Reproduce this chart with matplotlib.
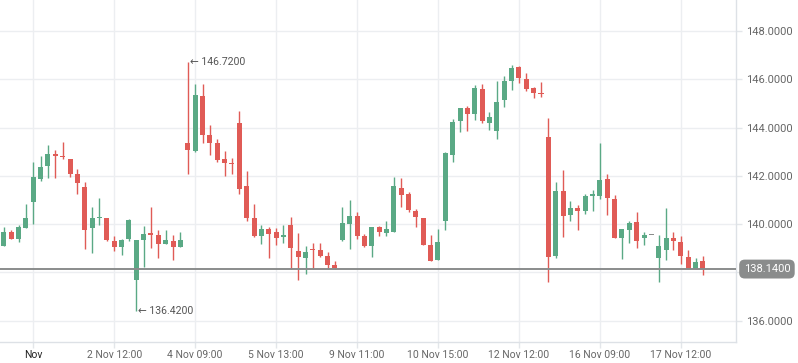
import matplotlib.pyplot as plt

plt.rcParams['font.family'] = ['Roboto', 'DejaVu Sans']

# datos OHLC (una vela por indice)
aperturas = [139.11, 139.68, 139.39, 139.86, 140.93, 141.87, 142.42, 142.91, 142.84, 142.70,
             142.09, 141.54, 139.86, 140.25, 140.26, 139.30, 139.07, 139.37, 137.69, 139.36,
             139.62, 139.54, 139.18, 139.30, 139.04, 143.36, 143.03, 145.30, 143.67, 143.35,
             142.70, 142.52, 144.19, 141.58, 140.26, 139.52, 139.79, 139.68, 139.48, 139.97,
             138.89, 138.61, 138.97, 138.93, 138.68, 138.31, 139.36, 140.01, 140.34, 139.51,
             139.11, 139.88, 139.65, 139.69, 141.50, 141.25, 140.55, 140.26, 139.14, 138.53,
             140.15, 142.88, 144.29, 144.81, 144.58, 145.60, 144.20, 143.87, 145.12, 145.94,
             146.51, 146.01, 145.63, 145.43, 143.61, 138.70, 141.37, 140.39, 140.67, 140.56,
             141.18, 141.18, 141.87, 141.04, 139.44, 139.77, 140.09, 139.44, 139.54, 138.61,
             138.94, 139.43, 139.26, 138.64, 138.14, 138.48]
maximos = [139.88, 139.76, 139.97, 140.84, 142.57, 142.82, 143.28, 143.07, 143.40, 142.70,
           142.29, 141.75, 140.71, 141.08, 140.26, 139.51, 139.40, 140.20, 139.35, 139.92,
           140.70, 139.76, 139.76, 139.54, 139.68, 146.72, 145.81, 145.81, 144.11, 143.51,
           143.02, 142.74, 144.69, 142.22, 140.84, 139.97, 139.88, 139.84, 139.97, 140.30,
           139.65, 139.10, 139.22, 139.22, 138.85, 138.49, 140.71, 141.00, 140.51, 139.59,
           139.88, 139.93, 140.13, 141.95, 141.91, 141.33, 140.63, 140.26, 139.55, 139.80,
           142.99, 144.36, 144.81, 144.89, 145.76, 145.81, 144.65, 145.93, 146.14, 146.59,
           146.55, 146.26, 145.68, 145.89, 144.40, 141.75, 142.24, 140.96, 140.80, 141.25,
           141.42, 143.36, 142.08, 141.21, 139.80, 140.13, 140.50, 139.68, 139.54, 139.55,
           140.67, 139.68, 139.51, 138.93, 138.60, 138.68]
minimos = [139.08, 139.37, 139.26, 139.86, 140.01, 141.79, 141.93, 141.93, 142.71, 141.97,
           141.26, 138.99, 138.82, 139.98, 139.32, 138.90, 138.74, 139.30, 136.42, 138.24,
           139.01, 138.60, 139.18, 138.52, 139.04, 142.06, 143.00, 143.38, 142.88, 142.59,
           142.01, 142.09, 141.26, 140.15, 139.48, 139.19, 138.61, 139.15, 139.23, 138.13,
           137.69, 137.95, 138.13, 138.66, 138.16, 138.13, 139.32, 138.99, 139.40, 139.06,
           138.66, 139.51, 139.51, 139.69, 140.71, 140.52, 139.88, 139.15, 138.49, 138.53,
           139.77, 142.59, 143.82, 143.86, 144.32, 144.20, 143.90, 143.54, 144.83, 145.57,
           145.86, 145.53, 145.24, 145.28, 137.62, 138.61, 139.48, 140.15, 139.77, 140.44,
           140.56, 141.02, 140.38, 139.44, 138.56, 139.23, 139.03, 139.15, 139.54, 137.62,
           138.52, 138.94, 138.37, 138.14, 138.14, 137.90]
cierres = [139.68, 139.39, 139.88, 140.26, 141.95, 142.37, 142.91, 142.84, 142.77, 142.09,
           141.72, 139.77, 140.26, 140.26, 139.36, 139.07, 139.35, 140.17, 139.35, 139.58,
           139.55, 139.17, 139.35, 139.07, 139.35, 143.09, 145.34, 143.67, 143.38, 142.67,
           142.55, 142.48, 141.47, 140.27, 139.52, 139.79, 139.61, 139.44, 139.55, 139.03,
           138.66, 138.85, 138.93, 138.70, 138.32, 138.20, 140.05, 140.34, 139.52, 139.10,
           139.88, 139.68, 139.80, 141.58, 141.22, 140.60, 140.31, 139.15, 138.49, 139.26,
           142.95, 144.23, 144.81, 144.56, 145.64, 144.25, 144.44, 145.06, 145.93, 146.47,
           146.03, 145.61, 145.45, 145.39, 138.66, 141.37, 140.35, 140.67, 140.56, 141.17,
           141.25, 141.83, 141.10, 139.44, 139.80, 140.05, 139.32, 139.55, 139.54, 139.10,
           139.43, 139.32, 138.70, 138.14, 138.43, 138.14]

pos_etiquetas = [4, 15, 26, 37, 48, 59, 70, 81, 92]
etiquetas_x = ["Nov", "2 Nov 12:00", "4 Nov 09:00", "5 Nov 13:00", "9 Nov 11:00",
               "10 Nov 15:00", "12 Nov 12:00", "16 Nov 09:00", "17 Nov 12:00"]
niveles_y = [136, 138, 140, 142, 144, 146, 148]
precio_actual = 138.14
maximo_max = 146.72
minimo_min = 136.42

verde = '#5aa985'
rojo = '#e05b56'
gris = '#8a8c8c'

fig = plt.figure(figsize=(7.98, 3.63), dpi=100)
ax = fig.add_axes([0, 21 / 363, 736 / 798, 342 / 363])

indices = list(range(len(aperturas)))
colores = []
for o, c in zip(aperturas, cierres):
    if c > o:
        colores.append(verde)
    elif c < o:
        colores.append(rojo)
    else:
        colores.append(gris)

# mechas
ax.vlines(indices, minimos, maximos, colors=colores, linewidth=1, zorder=3)
# cuerpos
bases = [min(o, c) for o, c in zip(aperturas, cierres)]
alturas = [max(abs(c - o), 0.05) for o, c in zip(aperturas, cierres)]
ax.bar(indices, alturas, bottom=bases, width=0.68, color=colores, linewidth=0, zorder=4)

# linea del precio actual
ax.axhline(precio_actual, color=gris, linewidth=1.4, zorder=5)
ax.annotate(f"{precio_actual:.4f}", xy=(1.0, precio_actual), xycoords=('axes fraction', 'data'),
            xytext=(5.5, 0), textcoords='offset points', ha='left', va='center',
            color='white', fontsize=8,
            bbox=dict(boxstyle='round,pad=0.4,rounding_size=0.5', fc=gris, ec='none'),
            annotation_clip=False, zorder=6)

# maximo y minimo
i_max = maximos.index(maximo_max)
i_min = minimos.index(minimo_min)
ax.annotate("\u2190 " + f"{maximo_max:.4f}", xy=(i_max, maximo_max), xytext=(1.5, 0),
            textcoords='offset points', ha='left', va='center', color='#555555', fontsize=7.6)
ax.annotate("\u2190 " + f"{minimo_min:.4f}", xy=(i_min, minimo_min), xytext=(1.5, 0),
            textcoords='offset points', ha='left', va='center', color='#555555', fontsize=7.6)

ax.set_xlim(-0.52, 99.5)
ax.set_ylim(135.12, 149.28)

ax.set_xticks(pos_etiquetas)
ax.set_xticklabels(etiquetas_x)
ax.set_yticks(niveles_y)
ax.set_yticklabels([f"{v:.4f}" if v != 138 else "" for v in niveles_y])
ax.yaxis.tick_right()

ax.grid(True, color='#eceef1', linewidth=1, zorder=0)
ax.set_axisbelow(True)

for lado in ['left', 'top']:
    ax.spines[lado].set_visible(False)
for lado in ['right', 'bottom']:
    ax.spines[lado].set_color('#dde1e6')
    ax.spines[lado].set_linewidth(1)

ax.tick_params(axis='y', length=4, width=1, color='#e3e6ea', pad=3, labelsize=8, labelcolor='#666666')
ax.tick_params(axis='x', length=4, width=1, color='#e3e6ea', pad=2, labelsize=7.5, labelcolor='#666666')
ax.get_xticklabels()[0].set_color('#222222')

plt.savefig("out.png", dpi=100)
